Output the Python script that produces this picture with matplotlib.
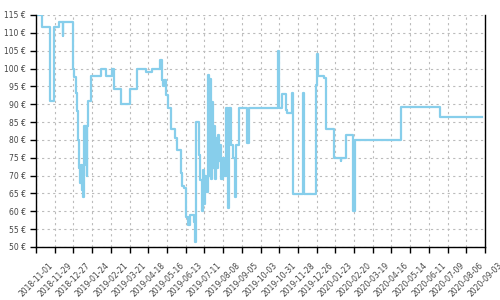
import matplotlib
matplotlib.use("Agg")
import matplotlib.pyplot as plt
import matplotlib.dates as mdates
import pandas as pd

# prisforløb (dato, pris i euro)
datoer = [
    "2018-11-01", "2018-11-10", "2018-11-22", "2018-11-28", "2018-12-05",
    "2018-12-11", "2018-12-12", "2018-12-26", "2018-12-28", "2018-12-31",
    "2019-01-01", "2019-01-03", "2019-01-04", "2019-01-06", "2019-01-07",
    "2019-01-09", "2019-01-10", "2019-01-12", "2019-01-13", "2019-01-14",
    "2019-01-16", "2019-01-17", "2019-01-18", "2019-01-22", "2019-02-06",
    "2019-02-14", "2019-02-22", "2019-02-26", "2019-03-08", "2019-03-22",
    "2019-04-01", "2019-04-15", "2019-04-24", "2019-05-06", "2019-05-09",
    "2019-05-10", "2019-05-12", "2019-05-15", "2019-05-18", "2019-05-22",
    "2019-05-28", "2019-05-31", "2019-06-06", "2019-06-07", "2019-06-11",
    "2019-06-14", "2019-06-16", "2019-06-20", "2019-06-26", "2019-06-27",
    "2019-06-29", "2019-07-03", "2019-07-04", "2019-07-07", "2019-07-09",
    "2019-07-10", "2019-07-12", "2019-07-14", "2019-07-17", "2019-07-18",
    "2019-07-19", "2019-07-21", "2019-07-23", "2019-07-24", "2019-07-26",
    "2019-07-27", "2019-07-29", "2019-07-30", "2019-08-01", "2019-08-02",
    "2019-08-04", "2019-08-05", "2019-08-08", "2019-08-09", "2019-08-12",
    "2019-08-15", "2019-08-17", "2019-08-20", "2019-08-23", "2019-08-26",
    "2019-08-28", "2019-09-01", "2019-09-13", "2019-09-16", "2019-10-29",
    "2019-10-31", "2019-11-04", "2019-11-10", "2019-11-12", "2019-11-19",
    "2019-11-20", "2019-12-05", "2019-12-07", "2019-12-25", "2019-12-27",
    "2019-12-28", "2020-01-06", "2020-01-09", "2020-01-21", "2020-01-31",
    "2020-02-01", "2020-02-08", "2020-02-18", "2020-02-19", "2020-02-21",
    "2020-04-30", "2020-06-28", "2020-08-29",
]
priser = [
    115, 111.5, 91, 111.5, 113,
    109, 113, 100, 97.5, 93,
    88, 80, 72, 68, 73,
    66, 64, 84, 73, 84,
    70, 84, 91, 98, 100,
    98, 100, 94.3, 90, 94.3,
    100, 99, 100, 102.5, 96.7,
    95, 96.7, 92.6, 89, 83,
    80.5, 77.2, 70.8, 67.2, 66.5,
    58.5, 56.2, 59, 57, 51.5,
    85, 75.8, 68.8, 60, 71.6,
    62, 70, 65.5, 98.2, 70,
    97, 69, 90.7, 72, 84,
    69, 80.5, 72, 81.5, 74,
    78.6, 69, 75, 70, 89,
    61, 89, 78.6, 75, 64.1,
    78.6, 89, 79, 89, 105,
    89, 92.9, 88.4, 87.6, 93,
    64.8, 93, 64.8, 95.4, 104.1,
    98, 97.3, 83, 74.8, 74.2,
    74.8, 81.4, 78.5, 60, 80,
    89.3, 86.4, 86.4,
]

y_ticks = list(range(50, 116, 5))
x_ticks = pd.date_range("2018-11-01", "2020-09-03", freq="28D")

fig = plt.figure(figsize=(5, 3), dpi=100)
ax = fig.add_axes([0.072, 0.177, 0.898, 0.773])

ax.plot(pd.to_datetime(datoer), priser, drawstyle="steps-post",
        color="#87CEEB", linewidth=1.6)

ax.set_xlim(x_ticks[0], x_ticks[-1])
ax.set_ylim(50, 115)
ax.set_yticks(y_ticks)
ax.set_yticklabels([f"{v} €" for v in y_ticks])
ax.set_xticks(x_ticks)
ax.xaxis.set_major_formatter(mdates.DateFormatter("%Y-%m-%d"))
plt.setp(ax.get_xticklabels(), rotation=45, ha="center", va="top")

ax.grid(True, color="#bbbbbb", linestyle=(0, (2, 3)), linewidth=0.8)
ax.tick_params(labelsize=5.5, labelcolor="#444444", length=4, width=1)
ax.tick_params(axis="x", pad=6)
ax.spines["top"].set_visible(False)
for s in ("left", "bottom", "right"):
    ax.spines[s].set_linewidth(1)

fig.savefig("out.png", dpi=100)
